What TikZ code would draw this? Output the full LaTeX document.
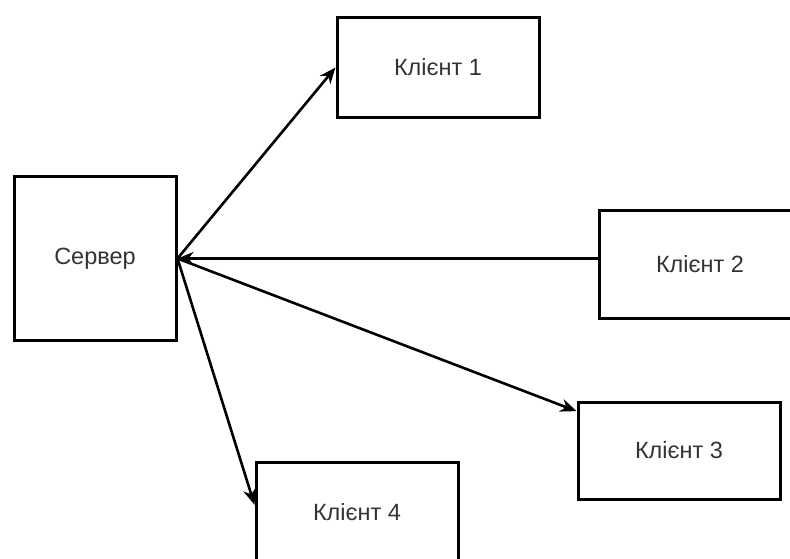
\documentclass[tikz,border=0pt]{standalone}
\usepackage{fontspec}
\setmainfont{Liberation Sans}
\usetikzlibrary{arrows.meta}

\tikzstyle{box} = [draw=black, fill=white, line width=3pt, rectangle,
    minimum width=202pt, minimum height=100pt, text=black!80,
    font=\fontsize{23.5}{28}\selectfont]
\tikzstyle{link} = [line width=2.6pt, -{Stealth[length=16pt,width=13pt,inset=5pt]}]

\begin{document}
\begin{tikzpicture}[x=1pt,y=-1pt]
\useasboundingbox (0,0) rectangle (790,559);
\node [box, minimum width=162pt, minimum height=163pt] (server) at (95,258.5) {Сервер};
\node [box] (k1) at (438,67.5) {Клієнт 1};
\node [box, minimum height=108pt] (k2) at (700,264) {Клієнт 2};
\node [box, minimum height=97pt] (k3) at (679,450.5) {Клієнт 3};
\node [box] (k4) at (357,512) {Клієнт 4};

\draw [link] (server.east) -- (k1.west);
\draw [link] (k2.west |- server.east) -- (server.east);
\draw [link] (server.east) -- (k3.159);
\draw [link] (server.east) -- (k4.176);
\end{tikzpicture}
\end{document}
